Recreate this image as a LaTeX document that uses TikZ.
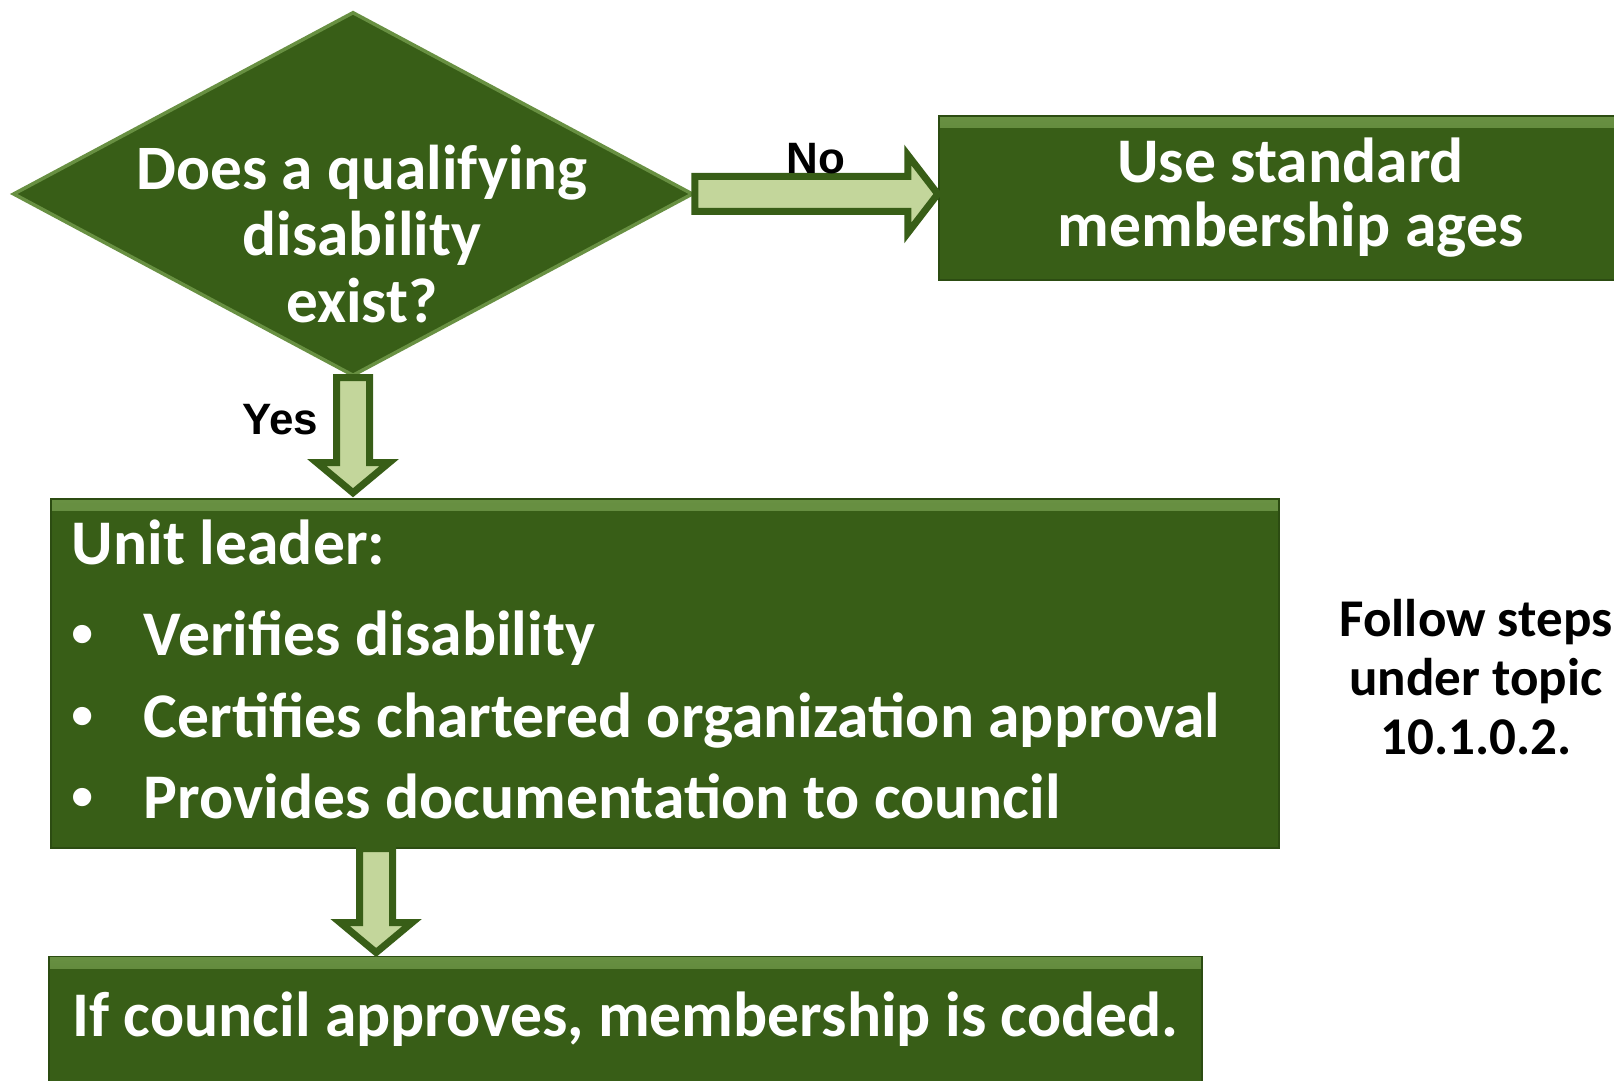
\documentclass[tikz,border=0pt]{standalone}
\usepackage{fontspec}
\setmainfont{Carlito}
\newfontfamily\labelfont{Liberation Sans}
\usetikzlibrary{positioning, shapes.geometric, calc}

\definecolor{boxgreen}{RGB}{56,94,23}
\definecolor{edgegreen}{RGB}{44,76,18}
\definecolor{bevelgreen}{RGB}{104,144,66}
\definecolor{arrowfill}{RGB}{195,214,155}

\begin{document}
\begin{tikzpicture}[
            stepbox/.style={rectangle, fill=boxgreen, draw=edgegreen, line width=0.5pt, text=white, font=\fontsize{18.1}{18.2}\selectfont\bfseries,
                path picture={\shade[top color=bevelgreen, bottom color=boxgreen] (path picture bounding box.north west) rectangle ([yshift=-0.12cm]path picture bounding box.north east);}},
            decision/.style={diamond, fill=boxgreen, draw=bevelgreen, line width=1pt, minimum width=6.8cm, minimum height=3.64cm, inner sep=0pt},
            qtext/.style={text=white, align=center, font=\fontsize{18}{18.8}\selectfont\bfseries},
            answer/.style={text=black, font=\labelfont\fontsize{12.5}{15}\selectfont\bfseries},
            note/.style={text=black, align=center, font=\fontsize{15.1}{16.8}\selectfont\bfseries},
            flow_block/.style={fill=arrowfill, draw=boxgreen, line width=0.07cm, line join=miter},
            blockright/.style={to path={let \p1=(\tikztostart), \p2=(\tikztotarget) in
                (\x1,\y1+0.175cm) -- (\x2-0.30cm,\y1+0.175cm) -- (\x2-0.30cm,\y1+0.39cm) -- (\x2,\y1)
                -- (\x2-0.30cm,\y1-0.39cm) -- (\x2-0.30cm,\y1-0.175cm) -- (\x1,\y1-0.175cm) -- cycle}},
            blockdown/.style={to path={let \p1=(\tikztostart), \p2=(\tikztotarget) in
                (\x1-0.165cm,\y1) -- (\x1-0.165cm,\y2+0.30cm) -- (\x1-0.36cm,\y2+0.30cm) -- (\x1,\y2)
                -- (\x1+0.36cm,\y2+0.30cm) -- (\x1+0.165cm,\y2+0.30cm) -- (\x1+0.165cm,\y1) -- cycle}}
        ]
        \useasboundingbox (0,0) rectangle (16.14,-10.81);

        % Decision
        \node[decision] (question) at (3.53,-1.94) {};
        \node[qtext] (questiontext) at ($(question)+(0.09,-0.40)$) {Does a qualifying\\disability\\exist?};

        % Steps
        \node[stepbox, right=2.43cm of question, yshift=-0.04cm, minimum width=7.04cm, minimum height=1.64cm, align=center] (standard) {Use standard\\membership ages};
        \node[stepbox, below=1.20cm of question, xshift=3.12cm, text width=11.86cm, inner xsep=0.21cm, minimum height=3.49cm, align=flush left,
              font=\fontsize{18.1}{23.2}\selectfont\bfseries] (unit) {Unit leader:\\[0.1cm]
            \makebox[0.72cm][l]{\labelfont\textbullet}Verifies disability\\
            \makebox[0.72cm][l]{\labelfont\textbullet}Certifies chartered organization approval\\
            \makebox[0.72cm][l]{\labelfont\textbullet}Provides documentation to council\rule[-0.08cm]{0pt}{0pt}};
        \node[stepbox, below=1.07cm of unit, xshift=-0.395cm, minimum width=11.53cm, minimum height=1.26cm] (coded) {If council approves, membership is coded.};

        % Side note
        \node[note] (followup) at (14.76,-6.77) {Follow steps\\under topic\\10.1.0.2.};

        % Arrows
        \draw[flow_block, blockright] (question.east) to (standard.west);
        \draw[flow_block, blockdown] (question.south) to ([yshift=0.05cm]unit.north);
        \draw[flow_block, blockdown] ([xshift=3.26cm]unit.south west) to ([yshift=0.03cm]coded.north);

        % Answers
        \node[answer] (no) at ($(question.east)!0.5!(standard.west)+(0,0.37)$) {No};
        \node[answer] (yes) at ($(question.south)+(-0.73,-0.42)$) {Yes};

    \end{tikzpicture}
\end{document}
